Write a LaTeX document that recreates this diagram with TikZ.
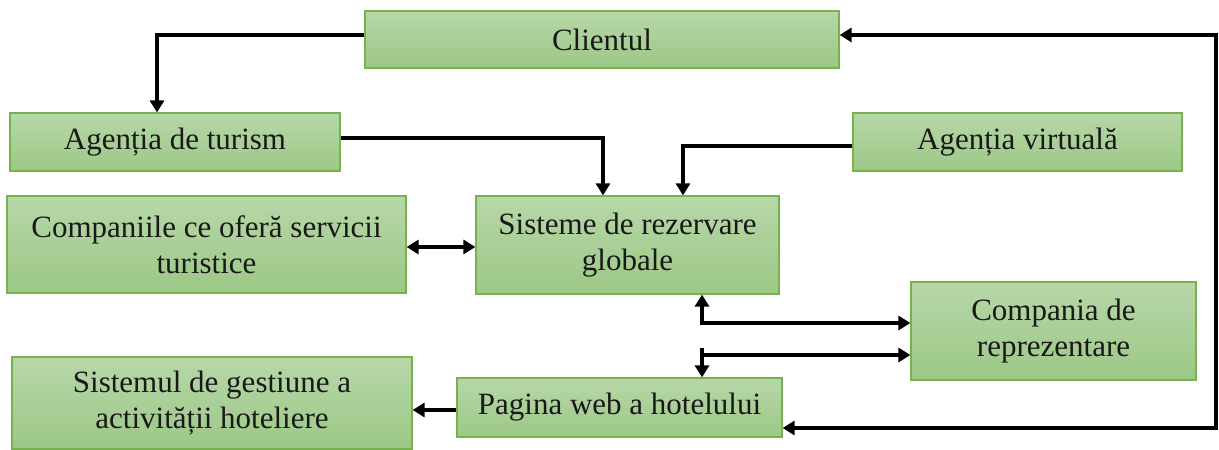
\documentclass[tikz,border=0pt]{standalone}
\usepackage{fontspec}
\setmainfont{Liberation Serif}
\usetikzlibrary{arrows.meta,calc}
\definecolor{boxtop}{RGB}{183,215,168}
\definecolor{boxbot}{RGB}{156,200,134}
\definecolor{boxline}{RGB}{118,178,78}
\definecolor{txt}{RGB}{25,25,25}
\tikzset{
  box/.style={draw=boxline, line width=1.2pt, top color=boxtop, bottom color=boxbot,
    inner sep=0pt, align=center, text=txt,
    font=\fontsize{31}{36}\selectfont},
  conn/.style={line width=3.5pt, draw=black,
    arrows={-Triangle[length=12pt,width=14pt]}},
  bothconn/.style={line width=3.5pt, draw=black,
    arrows={Triangle[length=12pt,width=14pt]-Triangle[length=12pt,width=14pt]}}
}
\begin{document}
\begin{tikzpicture}[x=1pt,y=-1pt]
\useasboundingbox (0,0) rectangle (1219,450);
\node[box, minimum width=474pt, minimum height=57pt] (cl) at (602,39.5) {Clientul};
\node[box, minimum width=330pt, minimum height=58pt] (at) at (175,142) {Agenția de turism};
\node[box, minimum width=329pt, minimum height=58pt] (av) at (1017.5,142) {Agenția virtuală};
\node[box, minimum width=399pt, minimum height=97pt] (co) at (206.5,244.5) {Companiile ce oferă servicii\\turistice};
\node[box, minimum width=303pt, minimum height=98pt] (sr) at (627.5,245) {Sisteme de rezervare\\globale};
\node[box, minimum width=285pt, minimum height=98pt] (cr) at (1053.5,331) {Compania de\\reprezentare};
\node[box, minimum width=400pt, minimum height=92pt] (sg) at (212,403) {Sistemul de gestiune a\\activității hoteliere};
\node[box, minimum width=325pt, minimum height=59pt] (pw) at (619.5,407.5) {Pagina web a hotelului};

\coordinate (k1) at (157,35);
\coordinate (k2) at (603,138);
\coordinate (k3) at (683,146);
\coordinate (k4) at (702,323);
\coordinate (k5) at (702,355);
\coordinate (k6) at (702,348);
\coordinate (rt) at (1216,35);
\coordinate (rb) at (1216,428);

\draw[conn] (cl.west |- k1) -- (k1) -- (at.north -| k1);
\draw[conn] (at.east |- k2) -- (k2) -- (sr.north -| k2);
\draw[conn] (av.west |- k3) -- (k3) -- (sr.north -| k3);
\draw[bothconn] (co.east |- 0,247) -- (sr.west |- 0,247);
\draw[bothconn] (sr.south -| k4) -- (k4) -- (cr.west |- k4);
\draw[conn] (k6) -- (pw.north -| k6);
\draw[conn] (k5) -- (cr.west |- k5);
\draw[conn] (pw.west |- 0,410) -- (sg.east |- 0,410);
\draw[bothconn] (pw.east |- rb) -- (rb) -- (rt) -- (cl.east |- rt);
\end{tikzpicture}
\end{document}
